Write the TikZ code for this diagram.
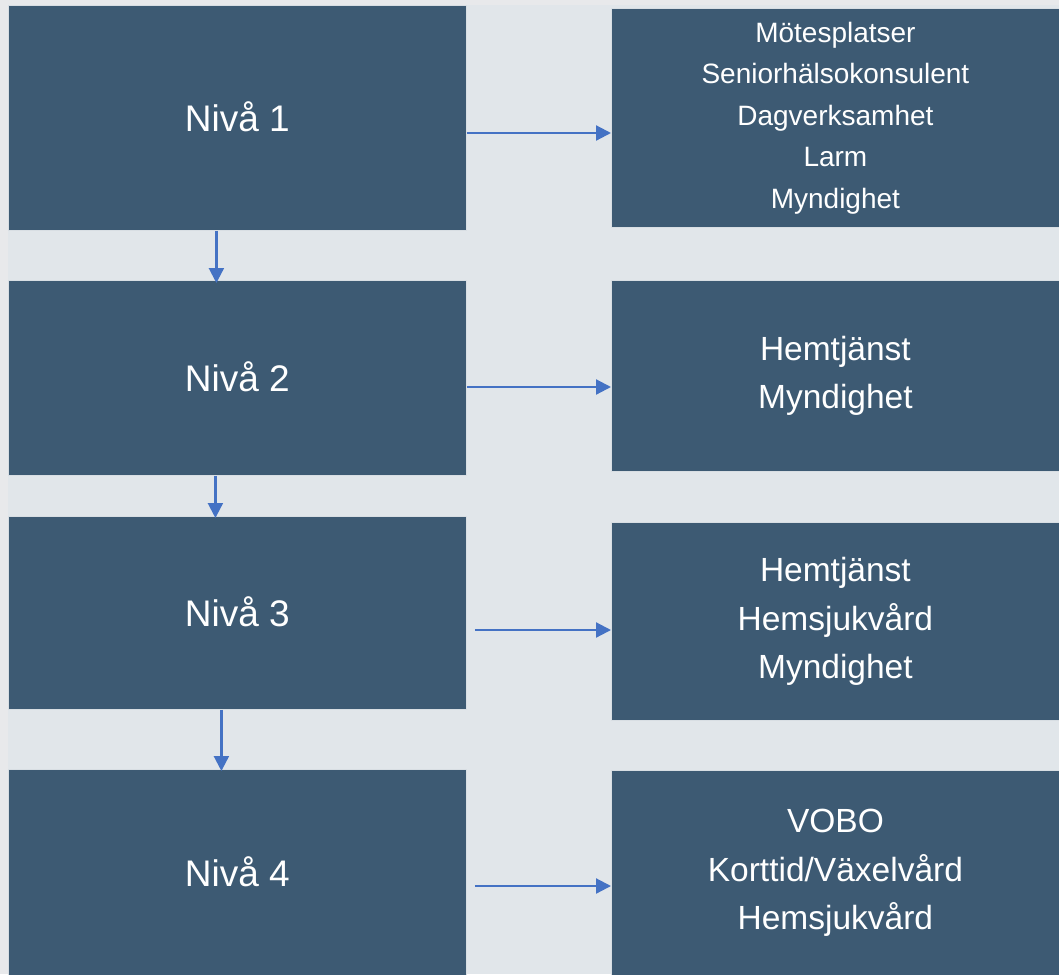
\documentclass[tikz,border=0pt]{standalone}
\usepackage{fontspec}
\setmainfont{Liberation Sans}
\usetikzlibrary{arrows.meta}

\definecolor{bakgrund}{HTML}{E8E9EB}
\definecolor{panel}{HTML}{E1E6EA}
\definecolor{ruta}{HTML}{3D5A73}
\definecolor{pil}{HTML}{4472C4}

\tikzset{
  niva/.style={rectangle, fill=ruta, draw=white!80!ruta, line width=0.8pt,
    text=white, inner sep=0pt, anchor=north west, minimum width=458pt,
    font=\fontsize{37}{44}\selectfont},
  insats/.style={rectangle, fill=ruta, draw=white!80!ruta, line width=0.8pt,
    text=white, inner sep=0pt, anchor=north west, minimum width=448pt,
    align=center, font=\fontsize{33.5}{48.5}\selectfont},
  pilen/.style={draw=pil, line width=2.2pt, -{Triangle[length=15pt,width=15pt]}}
}

\begin{document}
\begin{tikzpicture}[x=1pt,y=-1pt]
    % Bakgrund
    \useasboundingbox (0,0) rectangle (1059,974);
    \fill[bakgrund] (0,0) rectangle (1059,974);
    \fill[panel] (8,5) rectangle (1059,974);

    % Nivåer
    \node[niva, minimum height=225pt] (n1) at (8,5) {\raisebox{3pt}{Nivå 1}};
    \node[niva, minimum height=195pt] (n2) at (8,280) {\raisebox{3pt}{Nivå 2}};
    \node[niva, minimum height=193pt] (n3) at (8,516) {\raisebox{3pt}{Nivå 3}};
    \node[niva, minimum height=206pt] (n4) at (8,769) {\raisebox{2pt}{Nivå 4}};

    % Insatser
    \node[insats, minimum height=219pt, font=\fontsize{28}{41.5}\selectfont] (r1) at (611,8)
      {Mötesplatser\\Seniorhälsokonsulent\\Dagverksamhet\\Larm\\Myndighet};
    \node[insats, minimum height=191pt] (r2) at (611,280) {Hemtjänst\\Myndighet};
    \node[insats, minimum height=198pt] (r3) at (611,522) {Hemtjänst\\Hemsjukvård\\Myndighet};
    \node[insats, minimum height=205pt] (r4) at (611,770) {VOBO\\Korttid/Växelvård\\Hemsjukvård};

    % Pilar nedåt
    \draw[pilen] ([xshift=-21pt]n1.south) -- ([xshift=-21pt,yshift=-3pt]n2.north);
    \draw[pilen] ([xshift=-22pt]n2.south) -- ([xshift=-22pt,yshift=-2pt]n3.north);
    \draw[pilen] ([xshift=-16pt]n3.south) -- ([xshift=-16pt,yshift=-2pt]n4.north);

    % Pilar åt höger
    \draw[pilen] (n1.east |- 0,133) -- (r1.west |- 0,133);
    \draw[pilen] (n2.east |- 0,387) -- (r2.west |- 0,387);
    \draw[pilen] ([xshift=8pt]n3.east |- 0,630) -- (r3.west |- 0,630);
    \draw[pilen] ([xshift=8pt]n4.east |- 0,886) -- (r4.west |- 0,886);
\end{tikzpicture}
\end{document}
